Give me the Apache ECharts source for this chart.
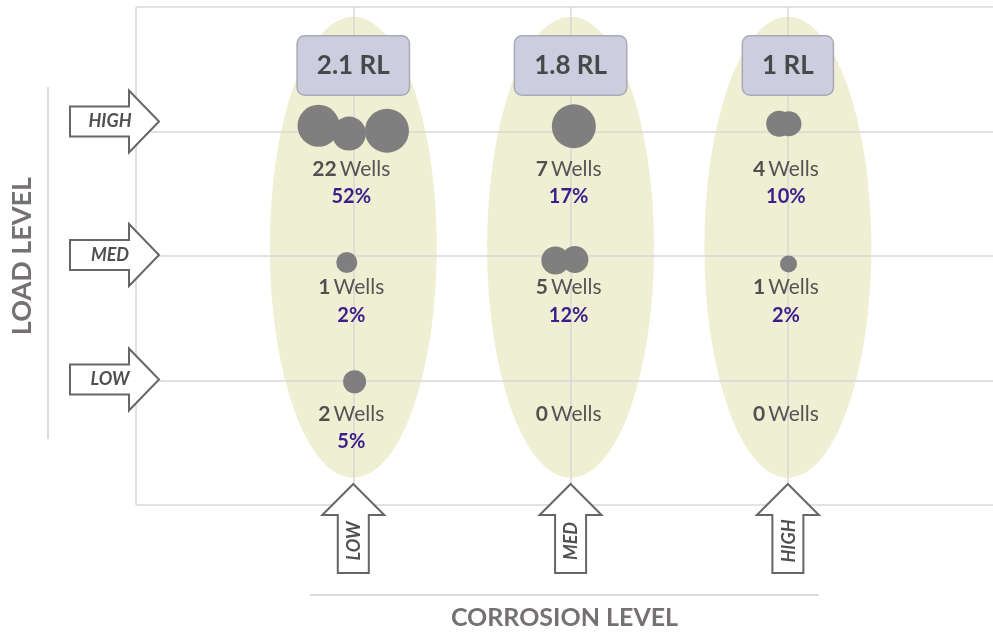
<!DOCTYPE html>
<html>
<head>
<meta charset="utf-8">
<script src="https://cdn.jsdelivr.net/npm/echarts@6/dist/echarts.min.js"></script>
<style>
html, body { margin: 0; padding: 0; background: #fff; }
#main { width: 993px; height: 635px; }
</style>
</head>
<body>
<div id="main"></div>
<script>
var corrosionLevels = ['LOW', 'MED', 'HIGH']
var loadLevels = ['LOW', 'MED', 'HIGH']
var rlLabels = ['2.1 RL', '1.8 RL', '1 RL']

// rows = load level (LOW, MED, HIGH), columns = corrosion level (LOW, MED, HIGH)
var wellCounts = [
  [2, 0, 0],
  [1, 5, 1],
  [22, 7, 4]
]
var wellPct = [
  [5, null, null],
  [2, 12, 2],
  [52, 17, 10]
]

// individual bubbles: corrosion position, load position, radius
var bubbleX = [0.84, 0.98, 1.155, 2.015, 2.96, 3.005, 0.97, 1.93, 2.02, 3.003, 1.006]
var bubbleY = [3.046, 2.983, 3.006, 3.042, 3.062, 3.062, 1.948, 1.964, 1.972, 1.936, 0.99]
var bubbleR = [21, 17, 22, 22, 13, 12.5, 10.5, 14, 13.5, 8.5, 11.5]

var FONT = 'Lato'
var chart = echarts.init(document.getElementById('main'))

var bubbles = bubbleX.map(function (x, i) { return [x, bubbleY[i], bubbleR[i]] })
var bands = corrosionLevels.map(function (c, i) { return [i + 1, 2.07] })
var boxes = rlLabels.map(function (t, i) { return { name: t, value: [i + 1, 3.53] } })

var rowGap = [19, 17, 23]
var labelItems = []
wellCounts.forEach(function (row, r) {
  row.forEach(function (n, c) {
    var txt = '{b|' + n + '} {n|Wells}'
    if (wellPct[r][c] != null) txt += '\n{p|' + wellPct[r][c] + '%}'
    labelItems.push({ value: [c + 1, r + 1], txt: txt, label: { distance: rowGap[r] } })
  })
})

var leftNudge = [-1, -1, -10]
function leftArrow (params, api) {
  var p = api.coord([0, api.value(1)])
  var y = p[1] + leftNudge[params.dataIndex]
  var x0 = p[0] - 66
  var xb = p[0] - 7
  var xt = p[0] + 23
  return {
    type: 'group',
    children: [
      {
        type: 'polygon',
        shape: { points: [[x0, y - 15], [xb, y - 15], [xb, y - 31], [xt, y], [xb, y + 31], [xb, y + 15], [x0, y + 15]] },
        style: { fill: '#fff', stroke: '#666', lineWidth: 2 }
      },
      {
        type: 'text',
        x: p[0] - 26,
        y: y,
        style: {
          text: loadLevels[params.dataIndex],
          align: 'center', verticalAlign: 'middle',
          textAlign: 'center', textVerticalAlign: 'middle',
          font: 'italic bold 18px ' + FONT, fill: '#505050'
        }
      }
    ]
  }
}

function bottomArrow (params, api) {
  var p = api.coord([api.value(0), 0])
  var x = p[0]
  var yt = p[1] - 21
  var yh = p[1] + 10
  var yb = p[1] + 68
  return {
    type: 'group',
    children: [
      {
        type: 'polygon',
        shape: { points: [[x, yt], [x + 31, yh], [x + 15.5, yh], [x + 15.5, yb], [x - 15.5, yb], [x - 15.5, yh], [x - 31, yh]] },
        style: { fill: '#fff', stroke: '#666', lineWidth: 2 }
      },
      {
        type: 'text',
        x: x + 1,
        y: p[1] + 36,
        rotation: Math.PI / 2,
        style: {
          text: corrosionLevels[params.dataIndex],
          align: 'center', verticalAlign: 'middle',
          textAlign: 'center', textVerticalAlign: 'middle',
          font: 'italic bold 18px ' + FONT, fill: '#505050'
        }
      }
    ]
  }
}

var option = {
  animation: false,
  textStyle: { fontFamily: FONT },
  grid: { left: 136, top: 7, right: 0, height: 503 },
  xAxis: {
    type: 'value', min: 0, max: 3.944, interval: 1, z: 3,
    name: 'CORROSION LEVEL', nameLocation: 'middle', nameGap: 100,
    nameTextStyle: { fontFamily: FONT, fontSize: 25, fontWeight: 'bold', color: '#767171' },
    axisLine: { show: false }, axisTick: { show: false }, axisLabel: { show: false },
    splitLine: { showMaxLine: false, lineStyle: { color: '#d9d9d9', width: 1.5 } }
  },
  yAxis: {
    type: 'value', min: 0, max: 4, interval: 1, z: 3,
    name: 'LOAD LEVEL', nameLocation: 'middle', nameGap: 100,
    nameTextStyle: { fontFamily: FONT, fontSize: 27, fontWeight: 'bold', color: '#767171' },
    axisLine: { show: false }, axisTick: { show: false }, axisLabel: { show: false },
    splitLine: { lineStyle: { color: '#d9d9d9', width: 1.5 } }
  },
  graphic: [
    { type: 'line', shape: { x1: 48, y1: 87, x2: 48, y2: 439 }, style: { stroke: '#d0d0d0', lineWidth: 1.5 } },
    { type: 'line', shape: { x1: 310, y1: 595, x2: 819, y2: 595 }, style: { stroke: '#d0d0d0', lineWidth: 1.5 } }
  ],
  series: [
    {
      type: 'scatter', z: 1, silent: true,
      symbol: 'circle', symbolSize: [167, 461],
      itemStyle: { color: '#efefd3', opacity: 1 },
      data: bands
    },
    {
      type: 'scatter', z: 5, silent: true,
      symbol: 'circle',
      symbolSize: function (v) { return v[2] * 2 },
      itemStyle: { color: '#7f7f7f', opacity: 1 },
      data: bubbles
    },
    {
      type: 'scatter', z: 6, silent: true,
      symbolSize: 1,
      itemStyle: { color: 'rgba(0,0,0,0)', opacity: 1 },
      label: {
        show: true, position: 'bottom', offset: [-2, 0],
        formatter: function (p) { return p.data.txt },
        rich: {
          b: { fontFamily: FONT, fontSize: 21, fontWeight: 'bold', color: '#505050', lineHeight: 28 },
          n: { fontFamily: FONT, fontSize: 21, color: '#555555', lineHeight: 28 },
          p: { fontFamily: FONT, fontSize: 20, fontWeight: 'bold', color: '#3b1d8c', lineHeight: 28 }
        }
      },
      data: labelItems
    },
    {
      type: 'scatter', z: 6, silent: true,
      symbolSize: 1,
      itemStyle: { color: 'rgba(0,0,0,0)', opacity: 1 },
      label: {
        show: true, position: 'inside',
        formatter: '{b}',
        fontFamily: FONT, fontSize: 26, fontWeight: 'bold', color: '#484848', lineHeight: 32,
        backgroundColor: '#cdcde0', borderColor: '#a9a9b6', borderWidth: 1.5, borderRadius: 7,
        padding: [13, 19]
      },
      data: boxes
    },
    {
      type: 'custom', z: 6, silent: true, clip: false,
      renderItem: leftArrow,
      data: loadLevels.map(function (l, i) { return [0, i + 1] })
    },
    {
      type: 'custom', z: 6, silent: true, clip: false,
      renderItem: bottomArrow,
      data: corrosionLevels.map(function (l, i) { return [i + 1, 0] })
    }
  ]
}
chart.setOption(option)
</script>
</body>
</html>
